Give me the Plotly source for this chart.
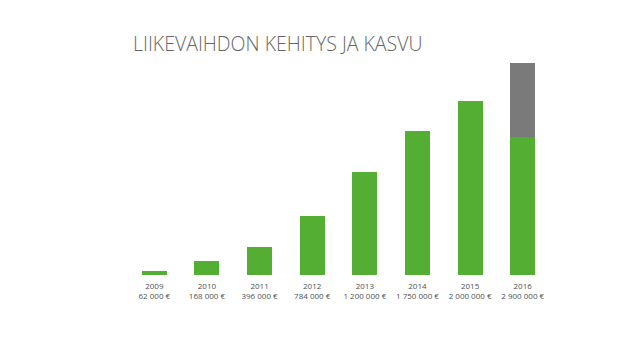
import plotly.graph_objects as go

years = ["2009", "2010", "2011", "2012", "2013", "2014", "2015", "2016"]
value_labels = ["62 000 €", "168 000 €", "396 000 €", "784 000 €",
                "1 200 000 €", "1 750 000 €", "2 000 000 €", "2 900 000 €"]
# bar heights as drawn in the picture (euros)
green_heights = [50000, 163000, 329000, 689000, 1200000, 1673000, 2021000, 1598000]
gray_heights = [0, 0, 0, 0, 0, 0, 0, 865000]

title_text = "LIIKEVAIHDON KEHITYS JA KASVU"

fig = go.Figure()
fig.add_trace(go.Bar(x=years, y=green_heights, marker=dict(color="#55ae34", line=dict(width=0)),
                     hoverinfo="skip"))
fig.add_trace(go.Bar(x=years, y=gray_heights, marker=dict(color="#7a7a7a", line=dict(width=0)),
                     hoverinfo="skip"))

ticktext = [f"{y}<br>{v}" for y, v in zip(years, value_labels)]

fig.update_layout(
    width=625, height=352,
    margin=dict(l=128, r=76, t=55, b=77),
    barmode="stack",
    bargap=0.525,
    showlegend=False,
    plot_bgcolor="white",
    paper_bgcolor="white",
    xaxis=dict(
        type="category",
        range=[-0.5, 7.5],
        tickmode="array",
        tickvals=years,
        ticktext=ticktext,
        showgrid=False, zeroline=False, showline=False,
        ticks="",
        ticklabelstandoff=5,
        tickfont=dict(family="Open Sans", size=8, color="#505050"),
    ),
    yaxis=dict(
        range=[0, 2555000],
        visible=False,
        showgrid=False, zeroline=False,
    ),
    annotations=[
        dict(text=title_text, xref="paper", yref="paper",
             x=(131 - 128) / 421, y=1 + (55 - 44) / 220,
             xanchor="left", yanchor="middle", showarrow=False,
             font=dict(family="Open Sans", size=19.5, color="#666666", weight=300))
    ],
)

fig.write_html("out.html")
